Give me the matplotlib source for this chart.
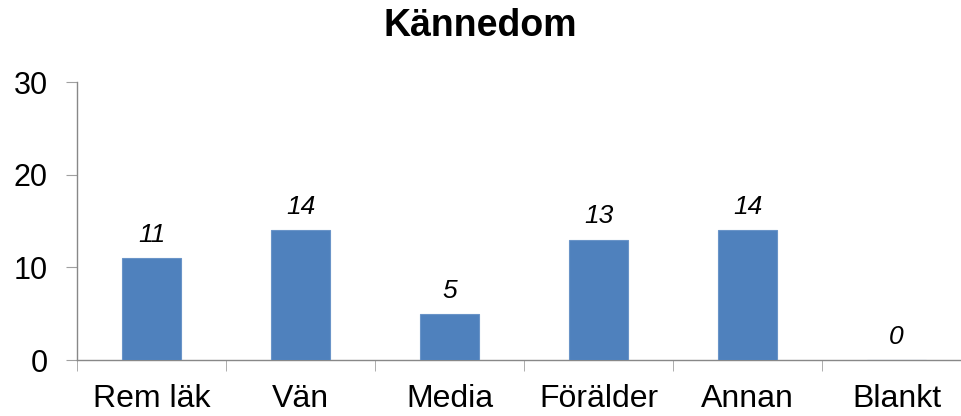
import matplotlib
matplotlib.use("Agg")
import matplotlib.pyplot as plt
import numpy as np

categories = ["Rem läk", "Vän", "Media", "Förälder", "Annan", "Blankt"]
values = [11, 14, 5, 13, 14, 0]
yticks = [0, 10, 20, 30]

plt.rcParams['font.family'] = ['Liberation Sans', 'DejaVu Sans']

W, H = 961, 416
fig = plt.figure(figsize=(W / 100, H / 100), dpi=100)
x0, x1 = 77, 77 + 6 * 149
ytop, ybot = 82, 360
ax = fig.add_axes([x0 / W, 1 - ybot / H, (x1 - x0) / W, (ybot - ytop) / H])

x = np.arange(len(categories))
ax.bar(x, values, width=0.4, color="#4F81BD", edgecolor="#6A94C8", linewidth=0.8, zorder=3)
for xi, v in zip(x, values):
    ax.annotate(str(v), (xi, v), xytext=(0, 8), textcoords="offset points",
                ha="center", va="bottom", fontsize=19, style="italic")

ax.set_xlim(-0.5, len(categories) - 0.5)
ax.set_ylim(0, 30)
ax.set_yticks(yticks)
ax.set_yticklabels([str(t) for t in yticks], fontsize=22)
ax.set_xticks(x)
ax.set_xticklabels(categories, fontsize=23)
ax.set_xticks(np.arange(len(categories) + 1) - 0.5, minor=True)
ax.tick_params(axis="x", which="major", length=0, pad=17)
ax.tick_params(axis="x", which="minor", length=8, color="#A0A0A0", direction="out")
ax.tick_params(axis="y", length=8, color="#A0A0A0", direction="out", pad=13)

for s in ["top", "right"]:
    ax.spines[s].set_visible(False)
for s in ["left", "bottom"]:
    ax.spines[s].set_color("#888888")
    ax.spines[s].set_linewidth(1)

fig.text(480 / W, 1 - 26 / H, "Kännedom", ha="center", va="center",
         fontsize=27, fontweight="bold")

fig.savefig("out.png", dpi=100)
